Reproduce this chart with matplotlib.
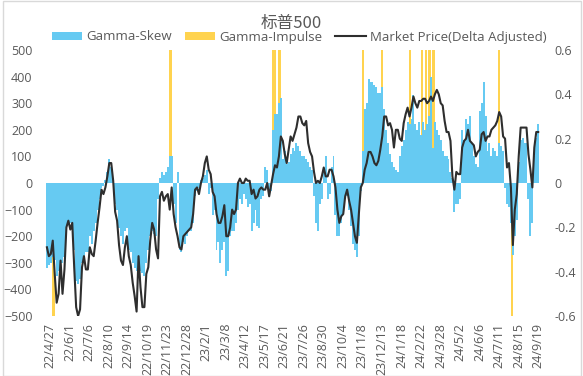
import matplotlib
matplotlib.use('Agg')
import matplotlib.pyplot as plt
import pandas as pd
from matplotlib.patches import Patch, Rectangle
from matplotlib.lines import Line2D
from matplotlib.ticker import FuncFormatter

# ---------------- data (twice-weekly samples) ----------------
first_date = '2022-04-21'
step = '84h'          # 3.5 days between samples

gamma_skew = [
    -320, -310, -300, -280, -290, -350, -330, -300, -300, -280,
    -200, -150, -150, -150, -250, -370, -380, -360, -300, -280,
    -260, -260, -200, -230, -180, -150, -100, -60, -20, -10,
    10, 40, 90, 60, 20, -80, -100, -170, -200, -230,
    -180, -170, -250, -260, -300, -320, -330, -300, -330, -340,
    -350, -300, -250, -200, -180, -190, -200, -60, 20, 40,
    30, 40, 60, 100, 100, -80, -150, 40, -250, -260,
    -220, -230, -200, -180, -180, -150, -50, -30, -20, 10,
    20, 30, 50, -40, -20, -120, -100, -250, -220, -300,
    -250, -220, -350, -330, -200, -180, -180, -150, -100, -60,
    -80, -40, -60, -90, -80, -180, -150, -100, -160, -170,
    -60, -50, 60, 50, -40, -30, 200, 260, 260, 300,
    320, 90, 120, 70, 80, 110, 130, 120, 150, 140,
    120, 100, 100, 90, 80, 60, 50, -50, -150, -180,
    -80, -60, 40, 100, -60, -40, 60, 100, -120, -200,
    -200, -150, -120, -60, -50, -100, -160, -230, -250, -280,
    -200, -30, 120, 280, 300, 390, 380, 380, 370, 360,
    340, 340, 360, 280, 200, 150, 110, 80, 60, 50,
    40, 100, 140, 160, 200, 230, 220, 240, 330, 220,
    200, 230, 180, 230, 200, 220, 250, 400, 130, 230,
    200, 180, 160, 120, 100, 100, 90, 40, 20, -110,
    -80, -80, -60, 200, 160, 240, 220, 250, 150, 100,
    70, 60, 270, 300, 380, 250, 120, 150, 100, 130,
    120, 100, 150, 140, 120, -20, -80, -90, -150, -270,
    -200, -140, 80, 160, 170, 150, 150, -60, -200, -150,
    100, 170, 220,
]

market_price = [
    -0.29, -0.33, -0.32, -0.26, -0.41, -0.54, -0.50, -0.35, -0.50, -0.39,
    -0.20, -0.17, -0.21, -0.18, -0.38, -0.56, -0.60, -0.57, -0.38, -0.33,
    -0.39, -0.39, -0.29, -0.32, -0.33, -0.26, -0.18, -0.11, -0.03, -0.05,
    -0.02, 0.03, 0.09, 0.09, 0.01, -0.13, -0.17, -0.28, -0.35, -0.37,
    -0.29, -0.24, -0.33, -0.37, -0.45, -0.51, -0.58, -0.33, -0.47, -0.56,
    -0.56, -0.41, -0.38, -0.26, -0.18, -0.21, -0.30, -0.34, -0.06, -0.04,
    -0.08, -0.06, -0.05, -0.12, -0.02, -0.14, -0.20, -0.24, -0.29, -0.30,
    -0.24, -0.23, -0.22, -0.21, -0.20, -0.14, -0.03, -0.02, -0.05, 0.00,
    0.03, 0.09, 0.12, 0.06, 0.04, -0.04, -0.06, -0.14, -0.18, -0.18,
    -0.15, -0.10, -0.24, -0.24, -0.20, -0.12, -0.14, -0.12, 0.00, 0.02,
    0.00, 0.00, 0.02, 0.01, 0.01, -0.05, -0.03, -0.07, -0.06, -0.03,
    -0.02, -0.03, -0.03, 0.00, -0.06, -0.01, 0.04, 0.08, 0.07, 0.12,
    0.21, 0.19, 0.13, 0.09, 0.15, 0.21, 0.19, 0.22, 0.25, 0.30,
    0.30, 0.27, 0.26, 0.28, 0.18, 0.14, 0.12, 0.05, 0.00, 0.01,
    0.00, 0.03, 0.07, 0.03, 0.03, 0.06, 0.06, 0.03, -0.02, -0.12,
    -0.18, -0.15, -0.14, -0.06, -0.03, -0.08, -0.12, -0.18, -0.24, -0.27,
    -0.14, -0.02, 0.00, 0.06, 0.09, 0.14, 0.14, 0.12, 0.09, 0.08,
    0.10, 0.15, 0.21, 0.30, 0.30, 0.26, 0.27, 0.24, 0.16, 0.24,
    0.24, 0.20, 0.19, 0.27, 0.31, 0.34, 0.30, 0.34, 0.39, 0.36,
    0.34, 0.37, 0.37, 0.38, 0.38, 0.36, 0.37, 0.39, 0.37, 0.40,
    0.42, 0.40, 0.36, 0.35, 0.28, 0.23, 0.23, 0.19, 0.03, -0.03,
    0.05, 0.04, 0.04, 0.16, 0.19, 0.20, 0.24, 0.19, 0.18, 0.17,
    0.12, 0.14, 0.15, 0.22, 0.23, 0.19, 0.21, 0.21, 0.24, 0.25,
    0.26, 0.28, 0.32, 0.30, 0.21, 0.20, 0.07, 0.09, -0.02, -0.28,
    -0.12, -0.05, 0.12, 0.25, 0.25, 0.25, 0.25, 0.13, 0.06, -0.02,
    0.16, 0.23, 0.23,
]

impulse_dates = ['2022-05-03', '2022-11-29', '2023-06-01', '2023-06-05',
                 '2023-06-12', '2023-06-13', '2023-11-10', '2023-12-14',
                 '2024-02-02', '2024-02-23', '2024-03-01', '2024-03-08',
                 '2024-03-15', '2024-07-11', '2024-08-03']
impulse_vals = [-500, 500, 500, 500, 500, 500, 500, 500,
                500, 500, 500, 500, 500, 500, -500]

tick_labels = ['22/4/27', '22/6/1', '22/7/6', '22/8/10', '22/9/14', '22/10/19',
               '22/11/23', '22/12/28', '23/2/1', '23/3/8', '23/4/12', '23/5/17',
               '23/6/21', '23/7/26', '23/8/30', '23/10/4', '23/11/8', '23/12/13',
               '24/1/18', '24/2/22', '24/3/28', '24/5/2', '24/6/6', '24/7/11',
               '24/8/15', '24/9/19']

title = '标普500'
series_names = ['Gamma-Skew', 'Gamma-Impulse', 'Market Price(Delta Adjusted)']

# ---------------- styling ----------------
plt.rcParams['font.family'] = ['Open Sans', 'Noto Sans CJK SC', 'DejaVu Sans']
txt = '#595959'
blue = '#66CAF2'
yellow = '#FFD34F'
line_c = '#2E2E2E'

dates = pd.date_range(first_date, periods=len(market_price), freq=step)
imp_d = pd.to_datetime(impulse_dates)
tick_d = pd.to_datetime(['20' + t for t in tick_labels], format='%Y/%m/%d')

W, H = 583, 376
fig = plt.figure(figsize=(W / 100, H / 100), dpi=100)
ax = fig.add_axes([38 / W, (H - 316) / H, 508 / W, 266 / H])
ax2 = ax.twinx()

ax.bar(imp_d, impulse_vals, width=4.0, color=yellow, zorder=1, linewidth=0)
ax.bar(dates, gamma_skew, width=3.5, color=blue, zorder=2, linewidth=0)
ax2.plot(dates, market_price, color=line_c, lw=1.5, zorder=3)

ax.set_ylim(-500, 500)
ax2.set_ylim(-0.6, 0.6)
ax.set_yticks(range(-500, 501, 100))
ax2.set_yticks([-0.6, -0.4, -0.2, 0, 0.2, 0.4, 0.6])
ax2.yaxis.set_major_formatter(FuncFormatter(lambda v, p: f'{v:g}'))
ax.set_xlim(pd.Timestamp('2022-04-05'), pd.Timestamp('2024-10-03'))
ax.set_xticks(tick_d)
ax.set_xticklabels(tick_labels, rotation=90)

for a in (ax, ax2):
    for s in a.spines.values():
        s.set_visible(False)
ax.tick_params(axis='y', length=0, pad=4, labelsize=9, labelcolor=txt)
ax.tick_params(axis='x', length=0, pad=5, labelsize=9, labelcolor=txt)
ax2.tick_params(axis='y', length=0, pad=6, labelsize=9, labelcolor=txt)

fig.text(0.5, 1 - 23 / H, title, ha='center', va='center', fontsize=12, color=txt,
         family=['Noto Sans CJK SC', 'DejaVu Sans'])

handles = [Patch(facecolor=blue, edgecolor='none'),
           Patch(facecolor=yellow, edgecolor='none'),
           Line2D([0], [0], color=line_c, lw=1.5)]
fig.legend(handles, series_names, loc='center', bbox_to_anchor=(299 / W, 1 - 37 / H),
           ncol=3, frameon=False, fontsize=9.5, labelcolor=txt, handlelength=2.3,
           handleheight=0.6, handletextpad=0.3, columnspacing=1.0)

fig.patches.append(Rectangle((2.5 / W, 0.5 / H), 578 / W, (H - 1) / H, transform=fig.transFigure,
                             fill=False, edgecolor='#D9D9D9', lw=1))

fig.savefig('out.png', dpi=100)
